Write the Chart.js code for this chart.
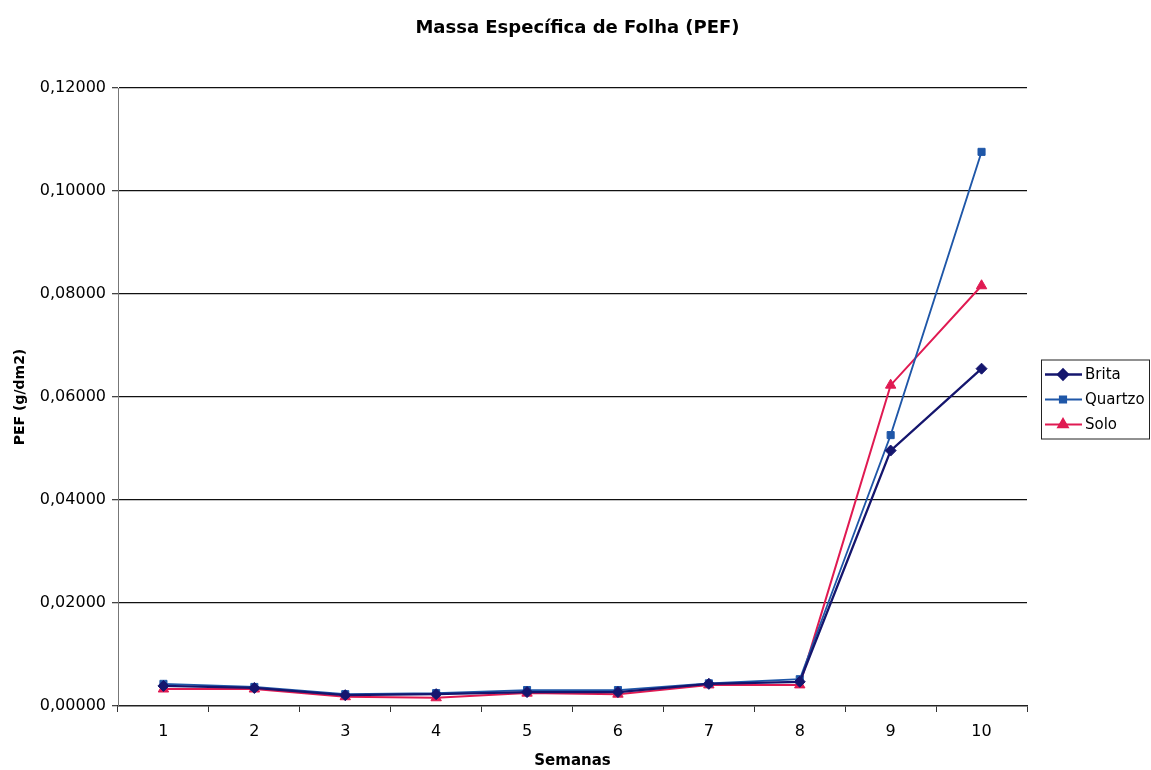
<!DOCTYPE html>
<html>
<head>
<meta charset="utf-8">
<script src="https://cdn.jsdelivr.net/npm/chart.js@4"></script>
<style>
  html, body { margin: 0; padding: 0; background: #fff; }
  #wrap { width: 1151px; height: 770px; }
</style>
</head>
<body>
<div id="wrap"><canvas id="myChart" width="1151" height="770"></canvas></div>
<script>
  // semanas de coleta
  const semanas = ['1', '2', '3', '4', '5', '6', '7', '8', '9', '10'];

  // PEF (g/dm2) por substrato
  const brita   = [0.0039, 0.0035, 0.0021, 0.0023, 0.0027, 0.0027, 0.0043, 0.0047, 0.0496, 0.0655];
  const quartzo = [0.0043, 0.0037, 0.0023, 0.0025, 0.0031, 0.0031, 0.0044, 0.0052, 0.0526, 0.1076];
  const solo    = [0.0033, 0.0033, 0.0018, 0.0016, 0.0025, 0.0023, 0.0041, 0.0041, 0.0623, 0.0816];

  const yTicks = [0, 0.02, 0.04, 0.06, 0.08, 0.10, 0.12];

  const FONT = '"DejaVu Sans", Arial, sans-serif';
  const TITLE = 'Massa Específica de Folha (PEF)';

  const series = [
    { label: 'Brita',   data: brita,   color: '#15166e', style: 'rectRot', radius: 5.5, width: 2.3 },
    { label: 'Quartzo', data: quartzo, color: '#1f57a8', style: 'rect',    radius: 5,   width: 1.8 },
    { label: 'Solo',    data: solo,    color: '#e01a52', style: 'triangle', radius: 6,  width: 2 }
  ];

  // título centralizado na figura inteira
  const figTitle = {
    id: 'figTitle',
    afterDraw(chart) {
      const ctx = chart.ctx;
      ctx.save();
      ctx.font = 'bold 18px ' + FONT;
      ctx.fillStyle = '#000';
      ctx.textAlign = 'center';
      ctx.textBaseline = 'middle';
      ctx.fillText(TITLE, chart.width / 2 + 2, 28);
      ctx.restore();
    }
  };

  // legenda desenhada à mão: linha com marcador + nome
  const legendBox = {
    id: 'legendBox',
    afterDraw(chart) {
      const ctx = chart.ctx;
      const area = chart.chartArea;
      const x = area.right + 14, w = 108, h = 79;
      const y = (area.top + area.bottom) / 2 - h / 2 + 2;
      ctx.save();
      ctx.fillStyle = '#fff';
      ctx.fillRect(x, y, w, h);
      ctx.strokeStyle = '#222';
      ctx.lineWidth = 1;
      ctx.strokeRect(x + 0.5, y + 0.5, w, h);
      ctx.font = '15px ' + FONT;
      ctx.textBaseline = 'middle';
      series.forEach((s, i) => {
        const cy = y + 15 + i * 25;
        ctx.strokeStyle = s.color;
        ctx.lineWidth = s.width;
        ctx.beginPath();
        ctx.moveTo(x + 4, cy);
        ctx.lineTo(x + 41, cy);
        ctx.stroke();
        ctx.fillStyle = s.color;
        Chart.helpers.drawPoint(ctx, { pointStyle: s.style, radius: s.radius - 0.5, borderWidth: 1 }, x + 22, cy);
        ctx.fill();
        ctx.fillStyle = '#000';
        ctx.fillText(s.label, x + 44, cy + 1);
      });
      ctx.restore();
    }
  };

  const data = {
    labels: semanas,
    datasets: series.map(s => ({
      label: s.label,
      data: s.data,
      borderColor: s.color,
      backgroundColor: s.color,
      borderWidth: s.width,
      pointStyle: s.style,
      pointRadius: s.radius,
      pointBorderWidth: 1,
      tension: 0
    }))
  };

  const config = {
    type: 'line',
    data: data,
    options: {
      responsive: false,
      animation: false,
      layout: { padding: { top: 88, right: 124, bottom: 0, left: 0 } },
      plugins: {
        legend: { display: false },
        tooltip: { enabled: false },
        title: { display: false }
      },
      scales: {
        x: {
          offset: true,
          grid: {
            offset: true,
            drawOnChartArea: false,
            drawTicks: true,
            tickLength: 6,
            color: '#333'
          },
          border: { color: '#222', width: 1.5 },
          ticks: {
            color: '#000',
            font: { family: FONT, size: 16 },
            padding: 10
          },
          title: {
            display: true,
            text: 'Semanas',
            color: '#000',
            font: { family: FONT, size: 15, weight: 'bold' },
            padding: { top: 4, bottom: 0 }
          },
          afterFit(scale) { scale.height = 64; }
        },
        y: {
          min: 0,
          max: 0.12,
          afterBuildTicks(scale) {
            scale.ticks = yTicks.map(v => ({ value: v }));
          },
          grid: {
            color: ctx => ctx.tick && ctx.tick.value === 0 ? 'rgba(0,0,0,0)' : '#111',
            lineWidth: 1.3,
            tickLength: 6,
            tickColor: '#444'
          },
          border: { color: '#777', width: 1 },
          ticks: {
            color: '#000',
            font: { family: FONT, size: 16 },
            padding: 6,
            callback: v => v.toFixed(5).replace('.', ',')
          },
          title: {
            display: true,
            text: 'PEF (g/dm2)',
            color: '#000',
            font: { family: FONT, size: 14, weight: 'bold' },
            padding: { top: 12, bottom: 2 }
          },
          afterFit(scale) { scale.width = 118; }
        }
      }
    },
    plugins: [figTitle, legendBox]
  };

  const myChart = new Chart(document.getElementById('myChart'), config);
</script>
</body>
</html>
